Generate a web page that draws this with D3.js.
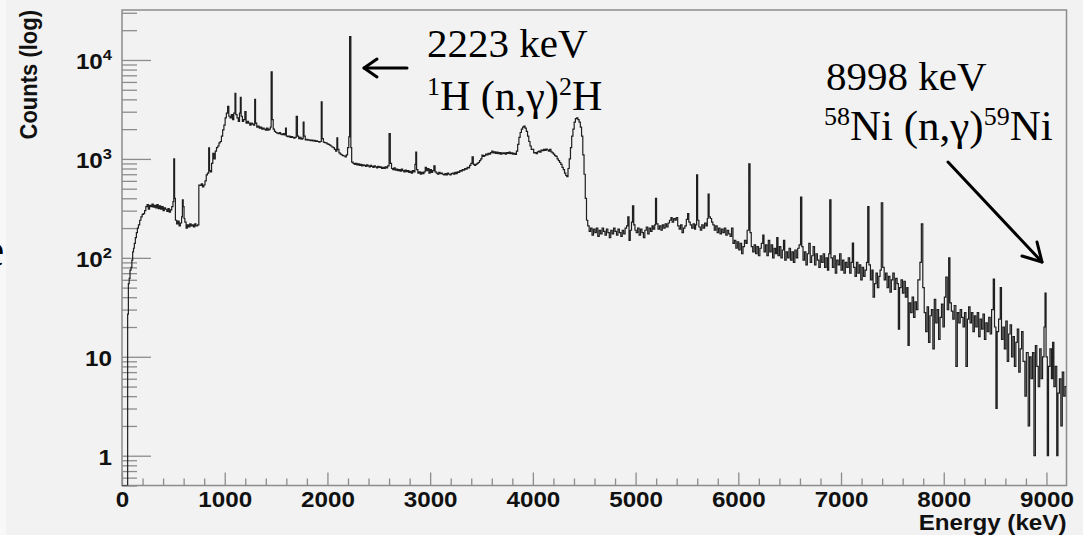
<!DOCTYPE html>
<html>
<head>
<meta charset="utf-8">
<script src="https://cdn.jsdelivr.net/npm/d3@7"></script>
<style>
  body { margin: 0; background: #f2f2f2; }
  svg { display: block; }
</style>
</head>
<body>
<svg id="chart" width="1083" height="535"></svg>
<script>
// spectrum: [energy keV, counts] per bin (step histogram)
var specLow = [
  [0,0],[55,27],[62,55],[70,62],[78,75],[88,80],[96,95],[104,115],[112,125],[120,140],
  [130,160],[140,180],[150,200],[160,215],[172,240],[184,260],[196,275],[208,280],[220,300],
  [232,330],[244,345],[256,310],[268,340],[280,330],[292,350],[304,325],[316,340],[328,320],
  [340,345],[352,315],[364,335],[376,310],[388,330],[400,300],[412,320],[424,310],[436,295],
  [448,315],[460,290],[472,305],[484,330],[496,370],[504,1000],[512,400],[520,240],[532,220],
  [544,235],[556,210],[568,225],[580,260],[588,385],[596,330],[604,250],[612,230],[624,200],
  [636,215],[648,205],[660,220],[672,210],[684,215],[696,205],[708,220],[720,210],[736,215]
];
var specRise = [
  [748,545],[760,540],[772,560],[784,520],[796,545],[808,600],[820,690],[832,720],[844,1290],
  [852,760],[860,740],[872,900],[884,1140],[896,1000],[908,1200],[920,1300],[932,1350],
  [944,1450],[956,1500],[968,1700],[980,1970],[992,2200],[1004,2600],[1016,2900],[1028,3400],
  [1040,2700],[1052,2600],[1064,2800],[1076,2500],[1088,2900],[1100,4600],[1108,2800],
  [1120,2600],[1132,2400],[1144,2900],[1152,4200],[1160,2700],[1172,2400],[1184,2500],
  [1196,3000],[1208,2300],[1220,2400],[1232,2300],[1244,2200],[1256,2300],[1268,2250],
  [1280,2200],[1292,4000]
];
var specPlateau = [
  [1300,2300],[1312,2100],[1324,2150],[1336,2050],[1348,2100],[1360,2000],[1372,2050],
  [1384,2000],[1396,1950],[1408,2050],[1420,1950],[1432,2000],[1444,2100],[1452,7600],
  [1462,2500],[1472,2000],[1484,1900],[1496,1850],[1508,1820],[1520,1800],[1532,1850],
  [1544,1780],[1556,1760],[1568,1800],[1580,1750],[1592,2050],[1600,1700],[1612,1680],
  [1624,1700],[1636,1650],[1648,1680],[1660,1650],[1672,1620],[1684,1650],[1696,2700],
  [1708,1700],[1720,1600],[1732,1650],[1744,1580],[1756,1600],[1764,2350],[1772,1700],
  [1784,1560],[1796,1580],[1808,1550],[1820,1560],[1832,1530],[1844,1550],[1856,1520],
  [1868,1540],[1880,1500],[1892,1520],[1904,1500],[1916,1480],[1928,1500],[1940,3780],
  [1948,1600],[1960,1480],[1972,1460],[1984,1450],[1996,1420],[2008,1400],[2020,1380],
  [2032,1350],[2044,1320],[2056,1300],[2068,1250],[2080,1200],[2092,1630],[2100,1250],
  [2112,1150],[2124,1120],[2136,1100],[2148,1080],[2160,1070],[2172,1050],[2184,1100],
  [2196,1300],[2208,1670],[2216,17200],[2228,1300]
];
var specMid = [
  [2236,930],[2250,900],[2262,880],[2274,900],[2286,870],[2298,890],[2310,860],[2322,880],
  [2334,850],[2346,870],[2358,860],[2370,840],[2382,870],[2394,850],[2406,830],[2418,860],
  [2430,840],[2442,820],[2454,850],[2466,830],[2478,810],[2490,840],[2502,820],[2514,830],
  [2526,800],[2538,820],[2550,800],[2562,830],[2574,810],[2586,850],[2600,1800],[2612,900],
  [2624,800],[2636,780],[2648,810],[2660,770],[2672,790],[2684,760],[2696,780],[2708,750],
  [2720,790],[2732,760],[2744,740],[2756,770],[2768,745],[2780,760],[2792,730],[2804,750],
  [2816,720],[2828,760],[2840,740],[2852,880],[2860,1170],[2868,780],[2880,720],[2892,740],
  [2904,700],[2916,730],[2928,710],[2940,740],[2952,820],[2964,760],[2976,800],[2988,720],
  [3000,780],[3012,730],[3024,760],[3036,850],[3048,740],[3060,720],[3072,700],[3084,730],
  [3096,710],[3108,720],[3120,700],[3132,690],[3144,710],[3156,690],[3168,720],[3180,700],
  [3192,690],[3204,710],[3216,720],[3228,700],[3240,730],[3252,710],[3264,740],[3276,730],
  [3288,760],[3300,750],[3312,780],[3324,770],[3336,800],[3348,790],[3360,820],[3372,810],
  [3384,860],[3396,900],[3408,1050],[3420,880],[3432,860],[3444,880],[3456,900],[3468,920],
  [3480,960],[3492,1000],[3504,1090],[3516,1060],[3528,1080],[3540,1120],[3552,1100],
  [3564,1140],[3576,1120],[3588,1160],[3600,1200],[3612,1150],[3624,1180],[3636,1140],
  [3648,1170],[3660,1130],[3672,1160],[3684,1120],[3696,1150],[3708,1130],[3720,1150],
  [3732,1120],[3744,1160],[3756,1140],[3768,1170],[3780,1130],[3792,1150],[3804,1120],
  [3816,1140],[3828,1110]
];
var specHump = [
  [3840,1200],[3852,1400],[3864,1650],[3876,1850],[3888,2000],[3900,2100],[3912,2150],
  [3924,2050],[3936,1900],[3948,1700],[3960,1500],[3972,1350],[3984,1250],[3996,1250],
  [4008,1150],[4020,1160],[4032,1130],[4044,1180],[4056,1200],[4068,1170],[4080,1230],
  [4092,1210],[4104,1250],[4116,1220],[4128,1260],[4140,1230],[4152,1200],[4164,1250],
  [4176,1180],[4188,1150],[4200,1120],[4212,1080],[4224,1060],[4236,1000],[4248,960],
  [4260,920],[4272,880],[4284,820],[4296,780],[4308,720],[4320,680],[4330,660],[4342,800],
  [4354,1000],[4366,1300],[4378,1700],[4390,2000],[4402,2350],[4414,2550],[4426,2600],
  [4438,2500],[4450,2350],[4462,2100],[4474,1700],[4486,1100],[4498,700],[4510,400],
  [4522,240]
];
var specTail1 = [
  [4534,210],[4548,185],[4562,200],[4576,170],[4590,195],[4604,180],[4618,200],[4632,165],
  [4646,190],[4660,175],[4674,200],[4688,185],[4702,170],[4716,195],[4730,180],[4744,160],
  [4758,190],[4772,175],[4786,200],[4800,185],[4814,170],[4828,195],[4842,180],[4856,165],
  [4870,190],[4884,175],[4898,200],[4912,210],[4924,260],[4936,150],[4948,190],[4960,230],
  [4970,335],[4982,215],[4994,190],[5006,180],[5020,200],[5034,170],[5048,195],[5062,180],
  [5076,160],[5090,190],[5104,205],[5118,175],[5132,200],[5146,185],[5160,210],[5172,195],
  [5186,215],[5194,400],[5204,220],[5218,195],[5232,210],[5246,190],[5260,215],[5274,200],
  [5288,220],[5302,205],[5316,225],[5330,240],[5344,255],[5356,230],[5370,250],[5384,240],
  [5396,255],[5410,210],[5424,195],[5438,215],[5452,180],[5466,200],[5480,210],[5494,245],
  [5506,280],[5518,230],[5532,215],[5546,200],[5560,220],[5574,195],[5584,215],[5594,690],
  [5604,240],[5616,205],[5630,190],[5644,215],[5658,200],[5672,225],[5686,210],[5698,250],
  [5706,440],[5716,260],[5728,250],[5740,230],[5752,215],[5766,190],[5780,210],[5794,180],
  [5808,200],[5822,175],[5836,195],[5850,180],[5864,200],[5878,170],[5892,190],[5906,175],
  [5920,165],[5934,200],[5948,140],[5962,150],[5976,125],[5990,145],[6004,120],[6018,140],
  [6032,110],[6046,130],[6060,150],[6074,140],[6086,190],[6102,890],[6114,180],[6126,130],
  [6140,115],[6154,135],[6168,110],[6182,130],[6196,105],[6210,125],[6224,140],[6238,170],
  [6250,115],[6264,135],[6278,105],[6292,150],[6306,115],[6320,135],[6334,100],[6348,125],
  [6362,110],[6374,160],[6386,105],[6400,130],[6414,100],[6428,120],[6440,150],[6452,95],
  [6466,115],[6480,100],[6494,125],[6508,95],[6522,115],[6536,90],[6550,120],[6564,100],
  [6578,125],[6592,135],[6606,410],[6618,130],[6630,95],[6644,115],[6658,85],[6672,110],
  [6686,140],[6700,90],[6714,105],[6728,130],[6742,85],[6756,110],[6770,95],[6784,80],
  [6798,105],[6812,90],[6826,110],[6840,80],[6854,100],[6868,75],[6880,110],[6890,385],
  [6902,100],[6916,80],[6930,105],[6944,70],[6958,95],[6972,85],[6986,110]
];
var specTail2 = [
  [7000,75],[7014,95],[7028,70],[7042,90],[7056,80],[7070,100],[7084,70],[7098,90],[7110,141],
  [7122,80],[7136,65],[7150,90],[7164,70],[7178,85],[7192,60],[7206,80],[7220,65],[7234,75],
  [7248,90],[7260,330],[7272,85],[7286,60],[7300,75],[7312,40],[7326,55],[7340,70],[7354,50],
  [7368,65],[7380,75],[7392,360],[7406,80],[7420,60],[7434,70],[7448,50],[7462,65],[7476,45],
  [7490,60],[7504,70],[7518,48],[7532,62],[7546,55],[7558,19],[7570,50],[7584,60],[7598,44],
  [7612,58],[7626,40],[7640,50],[7652,13],[7664,35],[7678,28],[7692,40],[7706,25],[7720,36],
  [7734,30],[7748,60],[7768,90],[7782,220],[7796,50],[7810,28],[7824,18],[7838,32],[7852,14],
  [7866,26],[7880,30],[7894,12],[7908,38],[7922,22],[7936,30],[7950,15],[7964,25],[7978,34],
  [7992,20],[8006,40],[8020,64],[8034,30],[8048,100],[8060,35],[8074,29],[8088,24],[8102,33],
  [8118,8],[8132,28],[8146,22],[8160,30],[8174,25],[8188,20],[8202,28],[8216,8],[8230,24],
  [8242,32],[8256,22],[8270,28],[8284,18],[8298,26],[8312,20],[8326,28],[8340,16],[8354,24],
  [8368,19],[8382,27],[8396,15],[8410,22],[8424,18],[8438,25],[8452,17],[8466,30],[8482,61],
  [8494,20],[8508,3],[8520,18],[8534,24],[8550,50],[8562,15],[8576,20],[8590,12],[8604,23],
  [8618,9],[8632,17],[8646,21],[8660,10],[8674,16],[8688,8],[8702,14],[8716,19],[8730,7],
  [8744,12],[8758,18],[8772,9],[8790,4],[8804,11],[8822,2],[8836,10],[8850,6],[8864,11],
  [8878,1],[8892,13],[8906,8],[8920,5],[8934,12],[8948,6],[8962,10],[8976,20],[8986,44],
  [8996,10],[9008,1],[9020,8],[9034,12],[9048,6],[9060,14],[9072,5],[9086,8],[9100,1],
  [9112,4.3],[9126,6],[9140,2],[9154,7],[9168,4],[9182,5]
];

var xMax = 9195;
var yMin = 0.5, yMax = 32000;
var xMajor = [0, 1000, 2000, 3000, 4000, 5000, 6000, 7000, 8000, 9000];
var yMajor = [1, 10, 100, 1000, 10000];
var yLabelBase = ["1", "10", "10", "10", "10"];
var yLabelExp = ["", "", "2", "3", "4"];
var xTitle = "Energy (keV)";
var yTitle = "Counts (log)";

(function () {
  var spectrum = specLow.concat(specRise, specPlateau, specMid, specHump, specTail1, specTail2);
  spectrum.push([xMax, spectrum[spectrum.length - 1][1]]);

  var svg = d3.select("#chart");
  var frameL = 122, frameR = 1066.5, frameT = 10, frameB = 485.5;
  var axisColor = "#8c8c8c";
  var sansFont = "'Liberation Sans', Arial, Helvetica, sans-serif";
  var serifFont = "'Liberation Serif', 'Times New Roman', serif";
  var labelSize = 22;
  var stretch = "scale(1.1,1)";

  svg.append("rect").attr("width", 1083).attr("height", 535).attr("fill", "#f2f2f2");
  svg.append("rect").attr("width", 6).attr("height", 535).attr("fill", "#f8f8f8");

  var x = d3.scaleLinear().domain([0, xMax]).range([frameL, frameR]);
  var y = d3.scaleLog().domain([yMin, yMax]).range([frameB, frameT]);

  // frame
  svg.append("rect")
    .attr("x", frameL).attr("y", frameT)
    .attr("width", frameR - frameL).attr("height", frameB - frameT)
    .attr("fill", "none")
    .attr("stroke", axisColor)
    .attr("stroke-width", 1.5);

  // x axis: minor and major ticks in separate groups, pointing up
  var xMinor = d3.range(200, xMax, 200).filter(function (d) { return d % 1000 !== 0; });
  var gxMinor = svg.append("g").attr("class", "x-minor").attr("transform", "translate(0," + frameB + ")")
    .call(d3.axisBottom(x).tickValues(xMinor).tickSize(-7).tickFormat(""));
  var gx = svg.append("g").attr("class", "x-major").attr("transform", "translate(0," + frameB + ")")
    .call(d3.axisBottom(x).tickValues(xMajor).tickSize(-13).tickPadding(6).tickFormat(d3.format("d")));
  gx.selectAll("text")
    .attr("fill", "#111")
    .attr("font-family", sansFont)
    .attr("font-weight", "bold")
    .attr("font-size", labelSize)
    .attr("transform", stretch);

  // y axis: minor and major ticks, pointing right
  var yMinor = y.ticks().filter(function (d) { return yMajor.indexOf(d) < 0 && d >= yMin; });
  var gyMinor = svg.append("g").attr("class", "y-minor").attr("transform", "translate(" + frameL + ",0)")
    .call(d3.axisLeft(y).tickValues(yMinor).tickSize(-15).tickFormat(""));
  var gy = svg.append("g").attr("class", "y-major").attr("transform", "translate(" + frameL + ",0)")
    .call(d3.axisLeft(y).tickValues(yMajor).tickSize(-29).tickFormat(""));

  [gxMinor, gx, gyMinor, gy].forEach(function (g) {
    g.select(".domain").remove();
    g.selectAll(".tick line")
      .style("stroke", axisColor)
      .style("stroke-width", "1.3px");
  });

  var ylab = svg.append("g").selectAll("text")
    .data(yMajor)
    .enter()
    .append("text")
    .attr("transform", function (d) { return "translate(112," + (y(d) + 9) + ") " + stretch; })
    .attr("text-anchor", "end")
    .attr("fill", "#111")
    .attr("font-family", sansFont)
    .attr("font-weight", "bold")
    .attr("font-size", labelSize);
  ylab.append("tspan").text(function (d, i) { return yLabelBase[i]; });
  ylab.append("tspan")
    .attr("font-size", 15)
    .attr("dy", -9)
    .text(function (d, i) { return yLabelExp[i]; });

  // histogram
  svg.append("clipPath").attr("id", "clip")
    .append("rect").attr("x", frameL).attr("y", frameT)
    .attr("width", frameR - frameL).attr("height", frameB - frameT);

  var line = d3.line()
    .x(function (d) { return x(d[0]); })
    .y(function (d) { return y(Math.max(d[1], yMin)); })
    .curve(d3.curveStepAfter);

  svg.append("path")
    .datum(spectrum)
    .attr("clip-path", "url(#clip)")
    .attr("d", line)
    .attr("fill", "none")
    .attr("stroke", "#1e1e1e")
    .attr("stroke-width", 1.2);

  // axis titles
  svg.append("text")
    .attr("transform", "translate(" + frameR + ",530) " + stretch)
    .attr("text-anchor", "end")
    .attr("font-family", sansFont)
    .attr("font-weight", "bold")
    .attr("font-size", labelSize)
    .attr("fill", "#111")
    .text(xTitle);

  svg.append("text")
    .attr("transform", "translate(37," + frameT + ") rotate(-90) scale(1,1.1)")
    .attr("text-anchor", "end")
    .attr("font-family", sansFont)
    .attr("font-weight", "bold")
    .attr("font-size", labelSize)
    .attr("fill", "#111")
    .text(yTitle);

  // annotations
  function annot(px, py, size, parts) {
    var t = svg.append("text")
      .attr("x", px).attr("y", py)
      .attr("font-family", serifFont)
      .attr("font-size", size)
      .attr("fill", "#000");
    parts.forEach(function (p) {
      var s = t.append("tspan").text(p[0]);
      if (p[1]) s.attr("font-size", 26).attr("baseline-shift", "15px");
    });
  }
  annot(427, 57, 41, [["2223 keV"]]);
  annot(427, 110, 42, [["1", true], ["H (n,\u03b3)"], ["2", true], ["H"]]);
  annot(826, 90, 41, [["8998 keV"]]);
  annot(824, 140, 43, [["58", true], ["Ni (n,\u03b3)"], ["59", true], ["Ni"]]);

  // arrows
  var arrows = svg.append("g").attr("stroke", "#000").attr("stroke-width", 3).attr("fill", "none")
    .attr("stroke-linecap", "round").attr("stroke-linejoin", "round");
  arrows.append("line").attr("x1", 407).attr("y1", 68).attr("x2", 364).attr("y2", 68);
  arrows.append("path").attr("d", "M377,59 L364,68 L377,77");
  arrows.append("line").attr("x1", 948).attr("y1", 162).attr("x2", 1042).attr("y2", 262);
  arrows.append("path").attr("d", "M1022,256 L1042,262 L1037,242");

  // clipped slide text at the left edge
  svg.append("text")
    .attr("x", -17).attr("y", 266)
    .attr("font-family", serifFont)
    .attr("font-size", 48)
    .attr("fill", "#000")
    .text("e");
})();
</script>
</body>
</html>
